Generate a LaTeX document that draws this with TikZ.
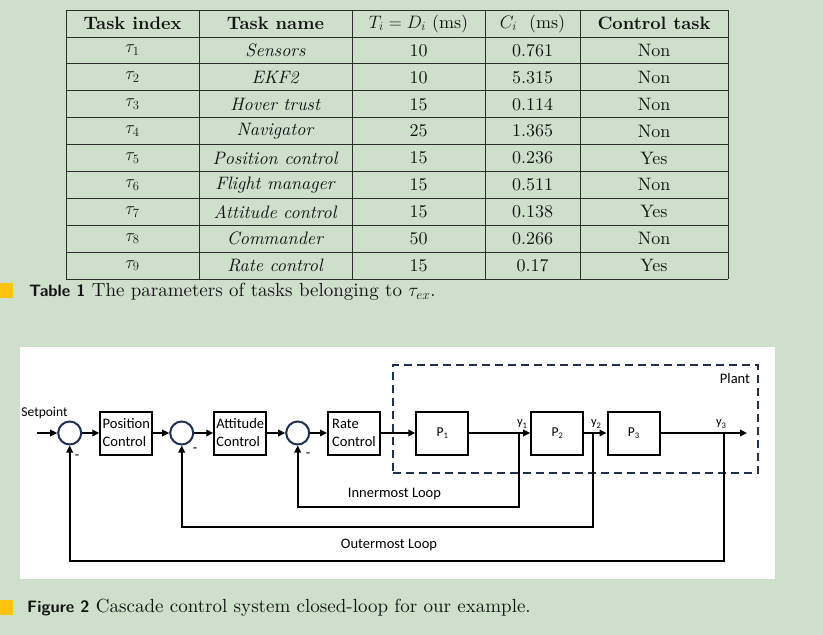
\documentclass[tikz,border=0pt]{standalone}
\usepackage{fix-cm}
\usepackage{fontspec}
\setmainfont{lmroman10}[Extension=.otf, UprightFont=*-regular, BoldFont=*-bold, ItalicFont=*-italic, BoldItalicFont=*-bolditalic]
\newfontfamily\carl{Carlito}
\usetikzlibrary{arrows.meta}
\definecolor{bg}{RGB}{206,224,204}
\definecolor{navy}{RGB}{31,48,80}
\definecolor{capy}{RGB}{255,194,14}
\definecolor{tline}{RGB}{45,45,45}
\newcommand\sbx[1]{\raisebox{-0.35ex}{\fontsize{8.5}{10}\selectfont #1}}
\newcommand\caplabfont{\sffamily\bfseries\fontsize{16.5}{20}\selectfont}
\begin{document}
\begin{tikzpicture}[x=1pt,y=-1pt,
  cell/.style={font=\fontsize{18}{21}\selectfont, text=black!92, inner sep=0},
  hcell/.style={cell, font=\fontsize{18}{21}\selectfont\bfseries},
  blk/.style={draw=black, line width=2pt, fill=white, minimum width=52pt, minimum height=43pt, inner sep=0, align=left, font=\carl\fontsize{14.5}{18}\selectfont},
  pblk/.style={blk, font=\carl\fontsize{13.5}{16}\selectfont},
  sum/.style={circle, draw=navy, line width=2pt, fill=white, minimum size=23pt, inner sep=0},
  sig/.style={line width=2pt, black},
  arr/.style={sig, -{Triangle[length=7pt,width=6.5pt]}},
  lbl/.style={font=\carl\fontsize{14.5}{17}\selectfont, inner sep=0},
  plantbox/.style={draw=navy, dash pattern=on 8pt off 5pt, line width=2.5pt, minimum width=365pt, minimum height=108pt, inner sep=0},
  capsq/.style={fill=capy, minimum width=13pt, minimum height=14.4pt, inner sep=0},
  captxt/.style={anchor=west, inner sep=0, font=\fontsize{19}{22}\selectfont, text=black!92}
]
\useasboundingbox (0,0) rectangle (823,635);
\fill[bg] (0,0) rectangle (823,635);

% ---------------- table ----------------
\foreach \yy in {10,37,63.89,90.78,117.67,144.56,171.44,198.33,225.22,252.11,279}
  \draw[tline, line width=1pt] (66,\yy) -- (728,\yy);
\foreach \xx in {66,199,352,485,580,728}
  \draw[tline, line width=1pt] (\xx,10) -- (\xx,279);

\node[hcell] (h1) at (132.5,23.5) {Task index};
\node[hcell] (h2) at (275.5,23.5) {Task name};
\node[cell] (h3) at (418.5,23.5) {$T_i = D_i$ (ms)};
\node[cell] (h4) at (532.5,23.5) {$C_i$\ \ (ms)};
\node[hcell] (h5) at (654,23.5) {Control task};

\foreach \i/\n/\t/\c/\k in {1/Sensors/10/0.761/Non, 2/EKF2/10/5.315/Non, 3/Hover trust/15/0.114/Non,
  4/Navigator/25/1.365/Non, 5/Position control/15/0.236/Yes, 6/Flight manager/15/0.511/Non,
  7/Attitude control/15/0.138/Yes, 8/Commander/50/0.266/Non, 9/Rate control/15/0.17/Yes}{
  \pgfmathsetmacro\ry{37+26.89*(\i-0.5)}
  \node[cell] (a\i) at (132.5,\ry) {$\tau_{\i}$};
  \node[cell] (b\i) at (275.5,\ry) {\textit{\n}};
  \node[cell] (t\i) at (418.5,\ry) {\t};
  \node[cell] (e\i) at (532.5,\ry) {\c};
  \node[cell] (k\i) at (654,\ry) {\k};
}

\node[capsq] (sq1) at (6.5,290.5) {};
\node[captxt] (cap1) at (29,292) {{\caplabfont Table 1} The parameters of tasks belonging to $\tau_{ex}$.};

% ---------------- figure ----------------
\fill[white] (20,347) rectangle (775,579);

\node[plantbox] (plant) at (575.5,419) {};
\node[lbl] (pl) at (735,379) {Plant};

\node[sum] (c1) at (69.7,433) {};
\node[sum] (c2) at (181.7,433) {};
\node[sum] (c3) at (297.7,433) {};
\node[blk] (pc) at (126.3,433) {Position\\Control};
\node[blk] (ac) at (240.3,433) {Attitude\\Control};
\node[blk] (rc) at (354,433) {Rate\\Control};
\node[pblk] (p1) at (442.3,433) {P\sbx{1}};
\node[pblk] (p2) at (557.2,433) {P\sbx{2}};
\node[pblk] (p3) at (633.5,433) {P\sbx{3}};

\coordinate (sp) at (37,433);
\coordinate (j1) at (519.3,433);
\coordinate (j2) at (592.7,433);
\coordinate (j3) at (724,433);
\coordinate (out) at (747,433);
\coordinate (b1) at (519.3,506.7);
\coordinate (b2) at (592.7,526.7);
\coordinate (b3) at (724,560.7);

\draw[arr] (sp) -- (c1);
\draw[arr] (c1) -- (pc);
\draw[arr] (pc) -- (c2);
\draw[arr] (c2) -- (ac);
\draw[arr] (ac) -- (c3);
\draw[arr] (c3) -- (rc);
\draw[arr] (rc) -- (p1);
\draw[arr] (p1) -- (p2);
\draw[arr] (p2) -- (p3);
\draw[arr] (p3) -- (out);
\draw[arr] (j1) -- (b1) -| (c3);
\draw[arr] (j2) -- (b2) -| (c2);
\draw[arr] (j3) -- (b3) -| (c1);

\node[lbl, font=\carl\fontsize{13.5}{16}\selectfont] (spl) at (44.5,413) {Setpoint};
\node[lbl] (m1) at (77,457) {-};
\node[lbl] (m2) at (195,450) {-};
\node[lbl] (m3) at (308,455) {-};
\node[lbl, font=\carl\fontsize{12.5}{14}\selectfont] (y1) at (522,424) {y\sbx{1}};
\node[lbl, font=\carl\fontsize{12.5}{14}\selectfont] (y2) at (596,424) {y\sbx{2}};
\node[lbl, font=\carl\fontsize{12.5}{14}\selectfont] (y3) at (721,424) {y\sbx{3}};
\node[lbl] (il) at (394.5,494) {Innermost Loop};
\node[lbl] (ol) at (389,545) {Outermost Loop};

\node[capsq] (sq2) at (6.5,607.3) {};
\node[captxt] (cap2) at (27,608) {{\caplabfont Figure 2} Cascade control system closed-loop for our example.};
\end{tikzpicture}
\end{document}
